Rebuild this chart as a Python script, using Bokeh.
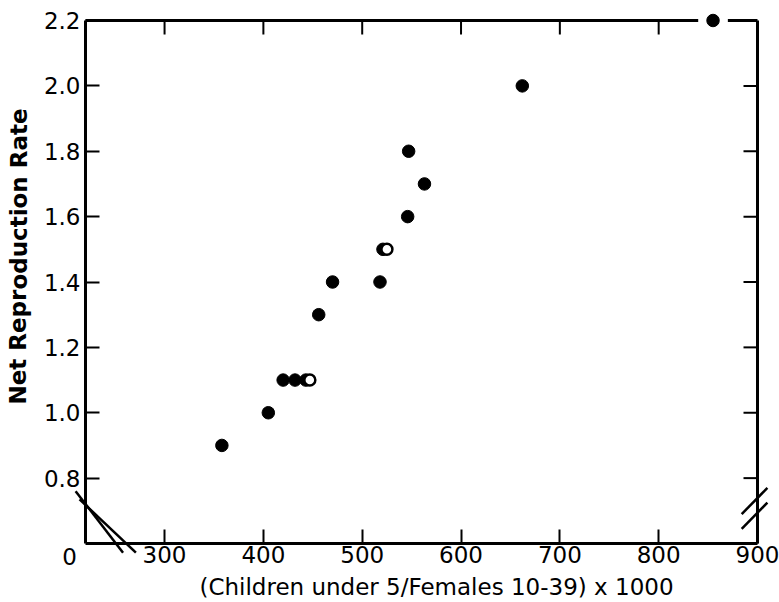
from bokeh.plotting import figure
from bokeh.models import Range1d, LinearAxis, FixedTicker, Label, PrintfTickFormatter
from bokeh.embed import file_html
from bokeh.resources import INLINE

# ---- data ----
filled_x = [358, 405, 420, 432, 443, 456, 470, 518, 521, 546, 547, 563, 662, 855]
filled_y = [0.9, 1.0, 1.1, 1.1, 1.1, 1.3, 1.4, 1.4, 1.5, 1.6, 1.8, 1.7, 2.0, 2.2]
open_x = [447, 525]
open_y = [1.1, 1.5]

x_ticks = [300, 400, 500, 600, 700, 800, 900]
y_ticks = [0.8, 1.0, 1.2, 1.4, 1.6, 1.8, 2.0, 2.2]
x_low, x_high = 220, 900      # axis box
y_low, y_high = 0.6, 2.2
x_title = "(Children under 5/Females 10-39) x 1000"
y_title = "Net Reproduction Rate"
zero_label = "0"

# ---- layout (frame covers the whole canvas; the box sits inside it) ----
W, H = 779, 602
BOX_L, BOX_R, BOX_T, BOX_B = 85, 757, 20, 543   # pixel box inside canvas
px_x = (BOX_R - BOX_L) / (x_high - x_low)
px_y = (BOX_B - BOX_T) / (y_high - y_low)
XR = (x_low - BOX_L / px_x, x_high + (W - BOX_R) / px_x)
YR = (y_low - (H - BOX_B) / px_y, y_high + BOX_T / px_y)
TICK = 14
FONT = "DejaVu Sans"

def dx(px):   # canvas pixel -> data x
    return XR[0] + px / px_x

def dy(py):   # canvas pixel (from top) -> data y
    return YR[1] - py / px_y

p = figure(width=W, height=H, x_range=Range1d(*XR), y_range=Range1d(*YR),
           output_backend="svg", toolbar_location=None,
           x_axis_location=None, y_axis_location=None,
           min_border_left=0, min_border_right=0,
           min_border_top=0, min_border_bottom=0)
p.outline_line_color = None
p.background_fill_color = "white"
p.border_fill_color = "white"
for g in p.grid:
    g.visible = False

def style(ax):
    ax.axis_line_width = 3
    ax.axis_line_color = "black"
    ax.major_tick_in = TICK
    ax.major_tick_out = 0
    ax.major_tick_line_width = 2
    ax.minor_tick_line_color = None
    ax.major_label_text_font = FONT
    ax.major_label_text_font_size = "23px"
    ax.major_label_text_color = "black"

yax = LinearAxis(fixed_location=x_low, bounds=(y_low, y_high),
                 ticker=FixedTicker(ticks=y_ticks),
                 formatter=PrintfTickFormatter(format="%.1f"))
style(yax)
yax.major_label_standoff = 5
p.add_layout(yax, "left")

xax = LinearAxis(fixed_location=y_low, bounds=(x_low, x_high),
                 ticker=FixedTicker(ticks=x_ticks))
style(xax)
xax.major_label_standoff = 2
p.add_layout(xax, "below")

# top and right frame lines (top one interrupted around the 2.2 point)
gap = (840, 870)
p.segment(x0=[x_low, gap[1]], y0=[y_high, y_high], x1=[gap[0], x_high], y1=[y_high, y_high],
          line_color="black", line_width=3)
p.segment(x0=[x_high], y0=[y_low], x1=[x_high], y1=[y_high], line_color="black", line_width=3)
# inner ticks on top and right
tx = x_ticks[:-1]
p.segment(x0=tx, y0=[y_high] * len(tx), x1=tx, y1=[y_high - TICK / px_y] * len(tx),
          line_color="black", line_width=2)
ty = y_ticks[:-1]
p.segment(x0=[x_high] * len(ty), y0=ty, x1=[x_high - TICK / px_x] * len(ty), y1=ty,
          line_color="black", line_width=2)

# axis breaks
p.segment(x0=[210, 214], y0=[0.76, 0.735], x1=[258, 271], y1=[0.572, 0.572],
          line_color="black", line_width=2.5)
p.segment(x0=[884, 884], y0=[0.69, 0.645], x1=[910, 910], y1=[0.77, 0.725],
          line_color="black", line_width=2.5)

# points
p.scatter(filled_x, filled_y, size=12.5, marker="circle", fill_color="black", line_color="black")
p.scatter(open_x, open_y, size=11, marker="circle", fill_color="white", line_color="black",
          line_width=2.5)

# texts
p.add_layout(Label(x=dx(69), y=dy(556), text=zero_label, text_font=FONT, text_font_size="23px",
                   text_align="center", text_baseline="middle", text_color="black"))
p.add_layout(Label(x=dx(436), y=dy(586), text=x_title, text_font=FONT, text_font_size="23px",
                   text_align="center", text_baseline="middle", text_color="black"))
p.add_layout(Label(x=dx(18), y=dy(256), text=y_title, text_font=FONT,
                   text_font_size="23px", text_font_style="bold", angle=1.5707963,
                   text_align="center", text_baseline="middle", text_color="black"))

open("out.html", "w").write(file_html(p, INLINE))
